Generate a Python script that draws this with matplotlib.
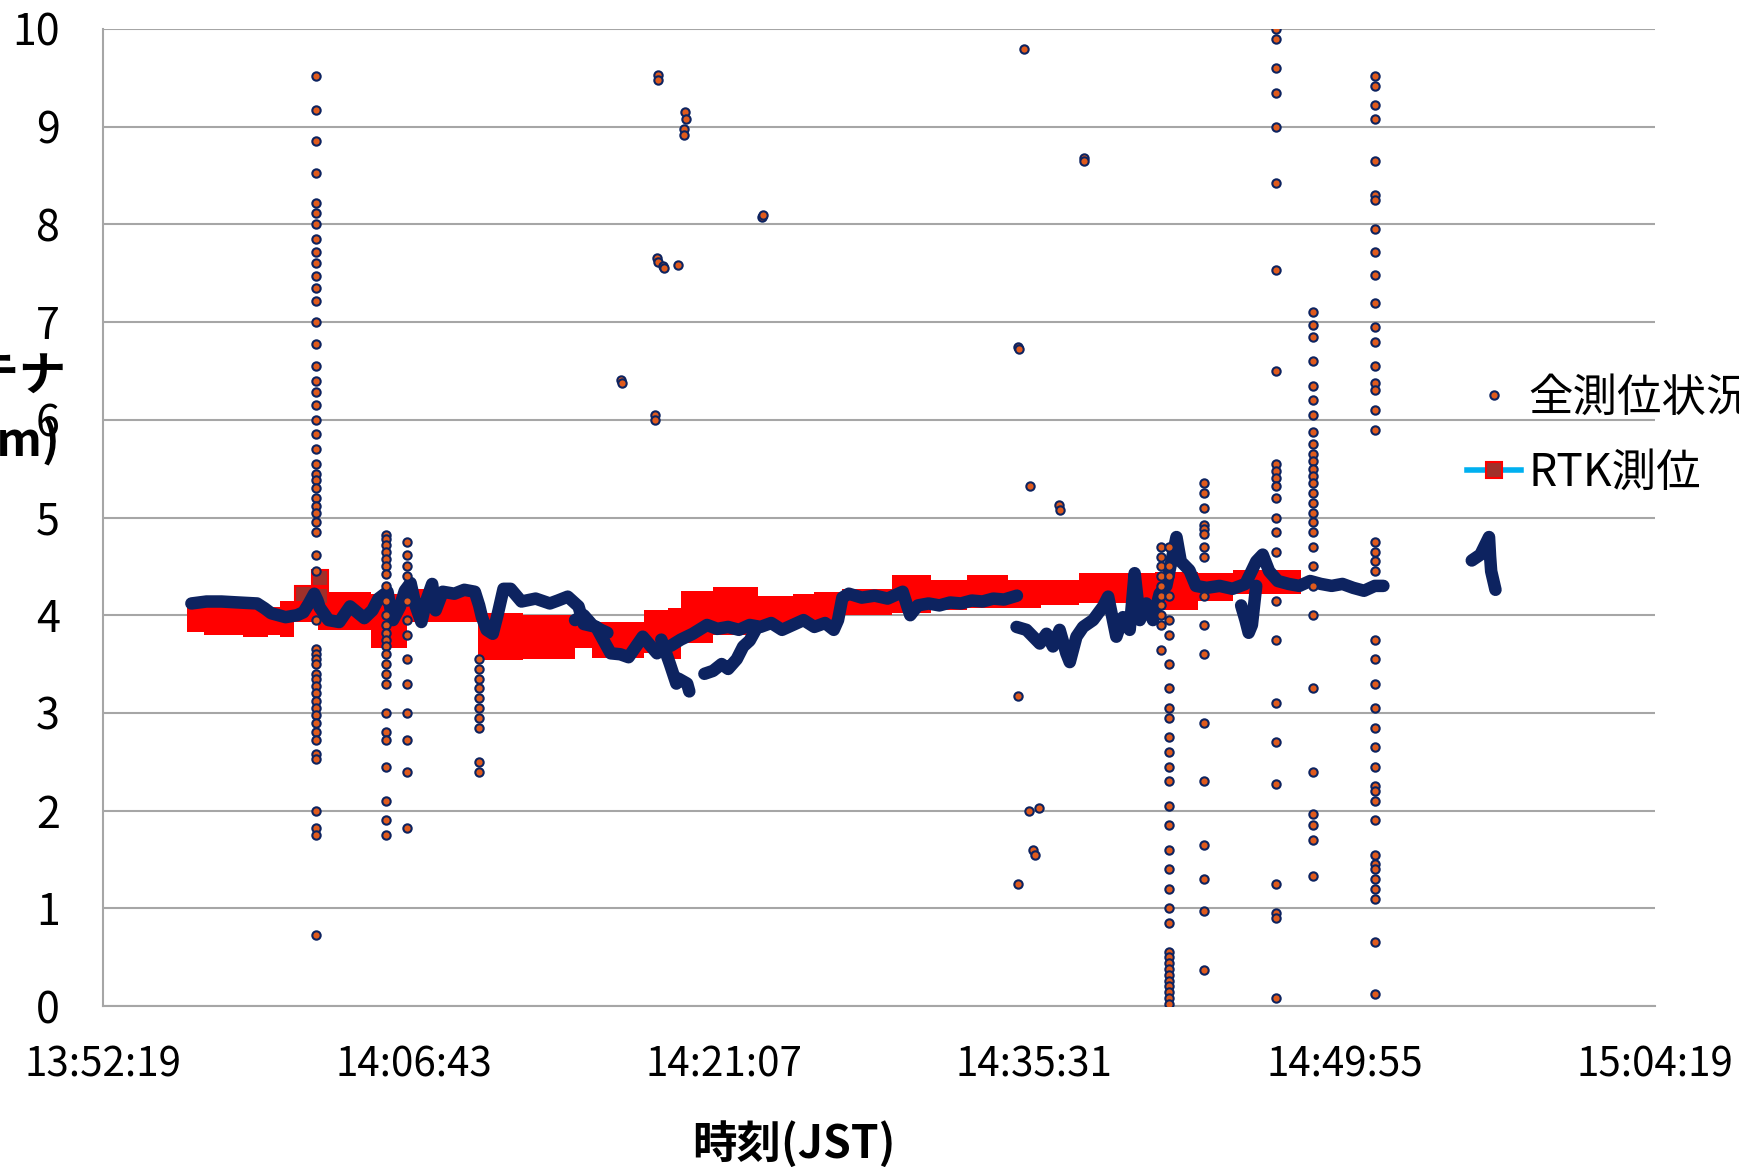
import matplotlib
matplotlib.use('Agg')
import matplotlib.pyplot as plt
from matplotlib.lines import Line2D

plt.rcParams['font.family'] = ['Noto Sans CJK JP', 'DejaVu Sans']

# x軸の目盛 (時刻)
tick_labels = ['13:52:19', '14:06:43', '14:21:07', '14:35:31', '14:49:55', '15:04:19']
y_ticks = [0, 1, 2, 3, 4, 5, 6, 7, 8, 9, 10]

# 以下の時刻はすべて 13:52:19 からの経過時間 [分]

# RTK測位 (赤い帯の下端・上端)
rtk_t = [3.9, 4.7, 6.5, 7.65, 8.2, 8.88, 9.97, 12.45, 14.1, 17.41, 19.5, 21.9, 22.7,
         25.1, 26.2, 26.8, 28.3, 30.4, 32.0, 33.0, 34.3, 36.6, 38.4, 40.1, 42.0, 43.5,
         45.3, 48.8, 50.8, 52.4, 55.6]
rtk_lo = [3.83, 3.80, 3.78, 3.80, 3.78, 3.93, 3.85, 3.66, 3.93, 3.54, 3.55, 3.66, 3.56,
          3.61, 3.55, 3.72, 3.80, 3.88, 3.92, 3.95, 4.00, 4.02, 4.05, 4.07, 4.07, 4.10,
          4.12, 4.05, 4.15, 4.22, 4.22]
rtk_hi = [4.08, 4.08, 4.06, 4.08, 4.15, 4.26, 4.24, 4.22, 4.27, 4.02, 4.00, 3.93, 3.93,
          4.05, 4.07, 4.25, 4.29, 4.20, 4.22, 4.24, 4.27, 4.41, 4.36, 4.41, 4.36, 4.36,
          4.43, 4.44, 4.43, 4.46, 4.46]
rtk_jump_t = [10.05, 10.05]
rtk_jump_v = [4.20, 4.38]
rtk_single_t = [9.3]
rtk_single_v = [4.22]

# 全測位状況 (連続部分)
main_t = [4.1, 4.8, 5.5, 6.3, 7.15, 7.5, 7.8, 8.47, 9.0, 9.3, 9.55, 9.8, 9.95, 10.05,
          10.46, 10.96, 11.46, 12.12, 12.5, 12.78, 13.2, 13.35, 13.45, 13.78, 14.0, 14.27,
          14.5, 14.77, 15.0, 15.27, 15.43, 15.76, 16.3, 16.76, 17.25, 17.45, 17.58, 17.8,
          18.08, 18.3, 18.58, 18.91, 19.41, 20.07, 20.73, 21.1, 21.56, 22.06, 22.3, 22.88,
          23.2, 23.55, 24.0, 24.38, 25.04, 25.7, 26.0, 26.36, 26.8, 27.36, 28.02, 28.5,
          29.0, 29.5, 30.0, 30.5, 31.0, 31.5, 32.0, 32.5, 33.0, 33.5, 33.9, 34.1, 34.3,
          34.6, 35.2, 35.8, 36.4, 36.9, 37.1, 37.3, 37.45, 37.8, 38.3, 38.8, 39.3, 39.8,
          40.3, 40.8, 41.3, 41.8, 42.4]
main_v = [4.12, 4.14, 4.14, 4.13, 4.12, 4.07, 4.02, 3.98, 4.00, 4.03, 4.12, 4.22, 4.15, 4.08,
          3.95, 3.93, 4.09, 3.97, 4.05, 4.17, 4.24, 4.05, 3.95, 4.09, 4.25, 4.33,
          4.10, 3.93, 4.15, 4.32, 4.05, 4.24, 4.22, 4.26, 4.24, 4.10, 3.98, 3.85,
          3.81, 4.00, 4.27, 4.27, 4.14, 4.17, 4.12, 4.15, 4.19, 4.09, 3.91, 3.88,
          3.75, 3.61, 3.60, 3.57, 3.78, 3.61, 3.66, 3.69, 3.75, 3.81, 3.90, 3.86,
          3.88, 3.85, 3.90, 3.88, 3.92, 3.85, 3.90, 3.95, 3.88, 3.92, 3.85, 3.95, 4.18,
          4.22, 4.18, 4.20, 4.17, 4.22, 4.24, 4.10, 4.00, 4.10, 4.12, 4.10, 4.13, 4.12,
          4.15, 4.14, 4.17, 4.16, 4.20]

late_t = [42.38, 42.84, 43.15, 43.46, 43.77, 44.07, 44.38, 44.69, 44.85, 45.16, 45.47,
          45.93, 46.4, 46.63, 47.01, 47.32, 47.63, 47.86, 48.1, 48.4, 48.71, 49.02, 49.33,
          49.8, 50.0, 50.4, 50.7, 51.2, 51.8, 52.4, 53.0, 53.5, 53.8, 54.1, 54.5, 55.0,
          55.5, 56.0, 56.5, 57.0, 57.5, 58.0, 58.5, 59.0, 59.4]
late_v = [3.88, 3.85, 3.78, 3.71, 3.81, 3.68, 3.85, 3.61, 3.52, 3.78, 3.88,
          3.95, 4.09, 4.19, 3.78, 3.98, 3.85, 4.43, 3.95, 4.12, 3.95, 4.22, 4.30,
          4.80, 4.55, 4.46, 4.30, 4.28, 4.30, 4.27, 4.32, 4.55, 4.62, 4.45, 4.35, 4.32,
          4.30, 4.35, 4.32, 4.30, 4.32, 4.28, 4.25, 4.30, 4.30]

dip_t = [25.9, 26.3, 26.6, 26.7, 27.1, 27.2]
dip_v = [3.75, 3.50, 3.30, 3.35, 3.30, 3.22]
low_t = [27.9, 28.3, 28.7, 29.0, 29.4, 29.7, 30.0, 30.3]
low_v = [3.40, 3.43, 3.50, 3.45, 3.55, 3.68, 3.74, 3.86]
upper_t = [21.9, 22.3, 22.7, 23.1, 23.4]
upper_v = [3.95, 4.00, 3.90, 3.85, 3.82]
dip2_t = [52.8, 53.0, 53.15, 53.3, 53.5]
dip2_v = [4.10, 3.95, 3.82, 3.90, 4.30]
tail_t = [63.5, 63.9, 64.3, 64.35, 64.4, 64.6]
tail_v = [4.56, 4.62, 4.80, 4.60, 4.45, 4.26]

# 全測位状況 (縦に飛んだ点の列)
spike_t = [9.9, 13.15, 14.08, 17.45, 42.45, 49.1, 49.45, 51.1, 54.4, 56.15, 59.0]
sp1_v = [9.52, 9.17, 8.85, 8.53, 8.22, 8.12, 8.00, 7.85, 7.72, 7.60, 7.47, 7.35, 7.22,
         7.00, 6.78, 6.55, 6.40, 6.28, 6.15, 6.00, 5.85, 5.70, 5.55, 5.45, 5.38, 5.30,
         5.20, 5.12, 5.05, 4.95, 4.85, 4.62, 4.45, 3.95, 3.65, 3.60, 3.55, 3.50, 3.40,
         3.35, 3.28, 3.20, 3.12, 3.05, 2.98, 2.90, 2.80, 2.72, 2.58, 2.53, 2.00, 1.82,
         1.75, 0.73]
sp2_v = [4.82, 4.78, 4.72, 4.65, 4.58, 4.50, 4.42, 4.30, 4.15, 4.00, 3.90, 3.82, 3.75,
         3.68, 3.60, 3.50, 3.40, 3.30, 3.00, 2.80, 2.72, 2.45, 2.10, 1.90, 1.75]
sp3_v = [4.75, 4.62, 4.50, 4.40, 4.15, 3.95, 3.80, 3.55, 3.30, 3.00, 2.72, 2.40, 1.82]
sp4_v = [3.55, 3.45, 3.35, 3.25, 3.15, 3.05, 2.95, 2.85, 2.50, 2.40]
sp5_v = [3.17, 1.25]
sp6_v = [4.70, 4.60, 4.50, 4.40, 4.30, 4.20, 4.10, 4.00, 3.90, 3.64]
sp7_v = [4.70, 4.50, 4.40, 4.20, 3.95, 3.80, 3.50, 3.25, 3.05, 2.95, 2.75, 2.60, 2.45,
         2.30, 2.05, 1.85, 1.60, 1.40, 1.20, 1.00, 0.85, 0.55, 0.50, 0.44, 0.38, 0.32,
         0.26, 0.20, 0.14, 0.08, 0.02]
sp8_v = [5.35, 5.25, 5.10, 4.92, 4.88, 4.83, 4.70, 4.60, 4.20, 3.90, 3.60, 2.90, 2.30,
         1.65, 1.30, 0.97, 0.37]
sp9_v = [10.0, 9.90, 9.60, 9.35, 9.00, 8.42, 7.53, 6.50, 5.55, 5.48, 5.40, 5.32, 5.20,
         5.00, 4.85, 4.65, 4.15, 3.75, 3.10, 2.70, 2.27, 1.25, 0.95, 0.90, 0.08]
sp10_v = [7.10, 6.97, 6.85, 6.60, 6.35, 6.20, 6.05, 5.88, 5.75, 5.65, 5.58, 5.50, 5.42,
          5.35, 5.25, 5.15, 5.05, 4.95, 4.85, 4.70, 4.50, 4.30, 4.00, 3.25, 2.40, 1.97,
          1.85, 1.70, 1.33]
sp11_v = [9.52, 9.42, 9.22, 9.08, 8.65, 8.30, 8.25, 7.95, 7.72, 7.48, 7.20, 6.95, 6.80,
          6.55, 6.38, 6.30, 6.10, 5.90, 4.75, 4.65, 4.55, 4.45, 3.75, 3.55, 3.30, 3.05,
          2.85, 2.65, 2.45, 2.25, 2.20, 2.10, 1.90, 1.55, 1.45, 1.40, 1.30, 1.20, 1.10,
          0.65, 0.12]
spike_vals = [sp1_v, sp2_v, sp3_v, sp4_v, sp5_v, sp6_v, sp7_v, sp8_v, sp9_v, sp10_v, sp11_v]

# 全測位状況 (ばらばらの点)
loose_t = [24.03, 24.08, 25.6, 25.63, 25.73, 25.73, 25.68, 25.73, 26.0, 26.03, 26.66,
           27.0, 27.03, 26.95, 26.97, 30.57, 30.6, 42.72, 42.46, 42.5, 43.0, 44.37, 44.4,
           45.5, 45.52, 42.98, 43.4, 43.13, 43.23]
loose_v = [6.41, 6.38, 6.05, 6.00, 9.53, 9.48, 7.66, 7.62, 7.57, 7.55, 7.58,
           9.15, 9.08, 8.98, 8.92, 8.08, 8.10, 9.80, 6.75, 6.72, 5.32, 5.13, 5.08,
           8.68, 8.65, 2.00, 2.03, 1.60, 1.55]

navy = '#0d2360'
orange = '#e05a1c'
dot = dict(ls='none', marker='o', ms=6, mfc=orange, mec=navy, mew=1.5)


def to_min(s):
    h, m, sec = [int(v) for v in s.split(':')]
    return h * 60 + m + sec / 60.0


t0 = to_min(tick_labels[0])
tick_pos = [to_min(s) - t0 for s in tick_labels]

fig = plt.figure(figsize=(17.39, 11.67), dpi=100)
ax = fig.add_axes([103 / 1739, 1 - 1006 / 1167, 1552 / 1739, 977 / 1167])

# RTK測位
ax.fill_between(rtk_t, rtk_lo, rtk_hi, step='post', color='#ff0000', lw=0, zorder=2)
ax.plot(rtk_jump_t, rtk_jump_v, color='#00b0f0', lw=4, marker='s', ms=11,
        mfc='#a0302a', mec='#ff0000', mew=1.5, zorder=2.5)
ax.plot(rtk_single_t, rtk_single_v, ls='none', marker='s', ms=11,
        mfc='#a0302a', mec='#ff0000', mew=1.5, zorder=2.5)

# 全測位状況
for tt, vv in [(main_t, main_v), (late_t, late_v), (dip_t, dip_v), (low_t, low_v),
               (upper_t, upper_v), (dip2_t, dip2_v), (tail_t, tail_v)]:
    ax.plot(tt, vv, color=navy, lw=9, solid_capstyle='round', solid_joinstyle='round', zorder=3)

for tt, vals in zip(spike_t, spike_vals):
    ax.plot([tt] * len(vals), vals, zorder=4, **dot)
ax.plot(loose_t, loose_v, zorder=4, **dot)

ax.set_xlim(tick_pos[0], tick_pos[-1])
ax.set_ylim(0, 10)
ax.set_xticks(tick_pos)
ax.set_xticklabels(tick_labels)
ax.set_yticks(y_ticks)
ax.tick_params(axis='x', length=0, pad=28, labelsize=29)
ax.tick_params(axis='y', length=0, pad=31, labelsize=31)
ax.grid(axis='y', color='#a6a6a6', lw=1.5)
ax.set_axisbelow(True)
for side in ['top', 'right']:
    ax.spines[side].set_visible(False)
for side in ['left', 'bottom']:
    ax.spines[side].set_color('#a6a6a6')
    ax.spines[side].set_linewidth(1.5)

fig.text(794 / 1739, 1 - 1144 / 1167, '時刻(JST)', ha='center', va='center',
         fontsize=32, fontweight='bold')
fig.text(67 / 1739, 1 - 377 / 1167, 'アンテナ', ha='right', va='center',
         fontsize=34, fontweight='bold')
fig.text(60 / 1739, 1 - 442 / 1167, '高さ(m)', ha='right', va='center',
         fontsize=34, fontweight='bold')

h1 = Line2D([], [], **dot)
h2 = Line2D([], [], color='#00b0f0', lw=4, marker='s', ms=11,
            mfc='#a0302a', mec='#ff0000', mew=1.5)
ax.legend([h1, h2], ['全測位状況', 'RTK測位'], loc='upper left',
          bbox_to_anchor=(1467 / 1739, 1 - 375 / 1167), bbox_transform=fig.transFigure,
          frameon=False, fontsize=32, handlelength=1.22, handletextpad=0.16,
          borderpad=0, borderaxespad=0, labelspacing=0.65)

fig.savefig('out.png', dpi=100)
